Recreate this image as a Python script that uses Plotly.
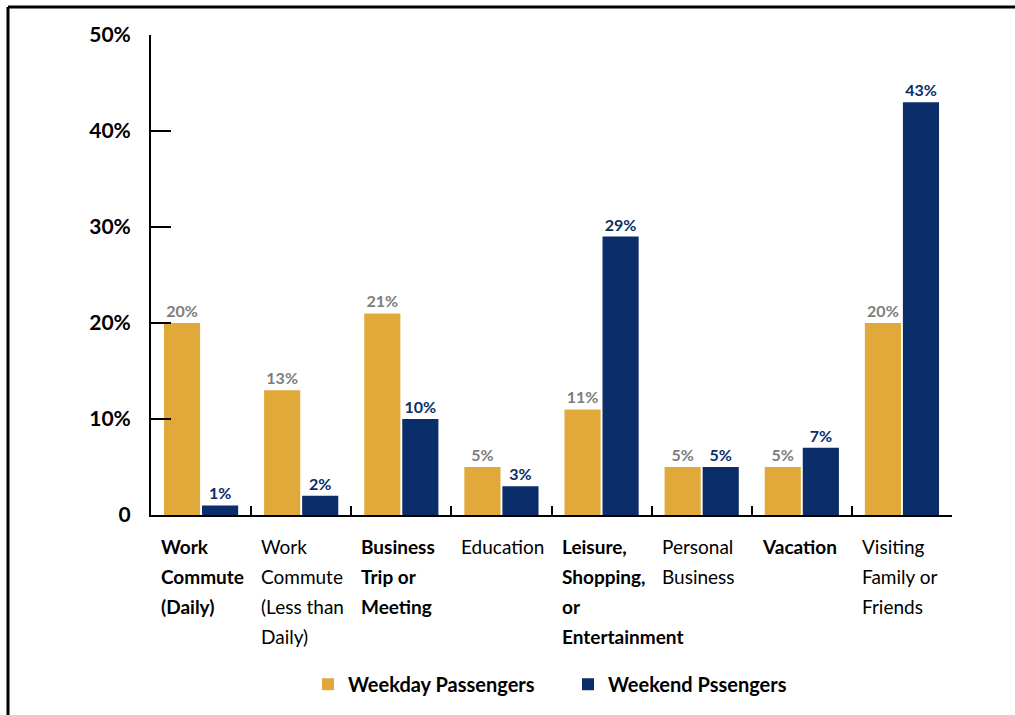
import plotly.graph_objects as go

# Trip purpose categories (one list of lines per category) and whether the label is bold
categories = [
    "Work Commute (Daily)",
    "Work Commute (Less than Daily)",
    "Business Trip or Meeting",
    "Education",
    "Leisure, Shopping, or Entertainment",
    "Personal Business",
    "Vacation",
    "Visiting Family or Friends",
]
category_lines = [
    ["Work", "Commute", "(Daily)"],
    ["Work", "Commute", "(Less than", "Daily)"],
    ["Business", "Trip or", "Meeting"],
    ["Education"],
    ["Leisure,", "Shopping,", "or", "Entertainment"],
    ["Personal", "Business"],
    ["Vacation"],
    ["Visiting", "Family or", "Friends"],
]
category_bold = [True, False, True, False, True, False, True, False]

# Share of trips (%)
weekday = [20, 13, 21, 5, 11, 5, 5, 20]
weekend = [1, 2, 10, 3, 29, 5, 7, 43]

y_tickvals = [0, 10, 20, 30, 40, 50]
y_ticktext = ["0", "10%", "20%", "30%", "40%", "50%"]

GOLD = "#E1A93A"
NAVY = "#0B2D69"
GREY = "#7D7D7D"
FONT = "Lato, Roboto, sans-serif"

W, H = 1015, 715
ML, MR, MT, MB = 151, 63, 35, 199
PW = W - ML - MR
PH = H - MT - MB

fig = go.Figure()
fig.add_trace(go.Bar(
    name="Weekday Passengers", x=categories, y=weekday,
    marker=dict(color=GOLD, line=dict(width=0)),
    text=[f"{v}%" for v in weekday], textposition="outside",
    textfont=dict(family=FONT, size=16, color=GREY, weight="bold"),
    constraintext="none", cliponaxis=False,
))
fig.add_trace(go.Bar(
    name="Weekend Pssengers", x=categories, y=weekend,
    marker=dict(color=NAVY, line=dict(width=0)),
    text=[f"{v}%" for v in weekend], textposition="outside",
    textfont=dict(family=FONT, size=16, color=NAVY, weight="bold"),
    constraintext="none", cliponaxis=False,
))

# Multi-line, left-aligned category labels under each group
for i, (lines, bold) in enumerate(zip(category_lines, category_bold)):
    for j, line in enumerate(lines):
        fig.add_annotation(
            x=categories[i], xref="x", y=0, yref="paper",
            xanchor="left", yanchor="top", xshift=-42, yshift=-18 - 30 * j,
            text=f"<b>{line}</b>" if bold else line, showarrow=False,
            font=dict(family=FONT, size=19, color="black"), align="left",
        )

# Frame lines along the top and left edge of the page
px = lambda p: (p - ML) / PW
py = lambda p: (H - MB - p) / PH
fig.add_shape(type="line", xref="paper", yref="paper",
              x0=px(8), x1=px(1020), y0=py(7), y1=py(7),
              line=dict(color="black", width=3))
fig.add_shape(type="line", xref="paper", yref="paper",
              x0=px(8), x1=px(8), y0=py(7), y1=py(720),
              line=dict(color="black", width=3))

fig.update_layout(
    width=W, height=H,
    margin=dict(l=ML, r=MR, t=MT, b=MB, pad=0),
    paper_bgcolor="white", plot_bgcolor="white",
    barmode="group", bargap=0.24, bargroupgap=0.05,
    font=dict(family=FONT, color="black"),
    showlegend=True,
    legend=dict(
        orientation="h", x=px(308), xanchor="left", y=-0.35, yanchor="middle",
        font=dict(family=FONT, size=20, color="black", weight="bold"),
        itemsizing="constant", entrywidth=215,
    ),
    xaxis=dict(
        range=[-0.5, 7.5], showticklabels=False, showgrid=False,
        showline=True, linecolor="black", linewidth=2,
        ticks="inside", tickson="boundaries", ticklen=9, tickwidth=2, tickcolor="black",
    ),
    yaxis=dict(
        range=[0, 50], tickvals=y_tickvals, ticktext=y_ticktext, showgrid=False,
        zeroline=False, showline=True, linecolor="black", linewidth=2,
        ticks="inside", ticklen=20, tickwidth=2, tickcolor="black",
        ticklabelstandoff=14,
        tickfont=dict(family=FONT, size=21, color="black", weight="bold"),
    ),
)

fig.write_html("out.html")
